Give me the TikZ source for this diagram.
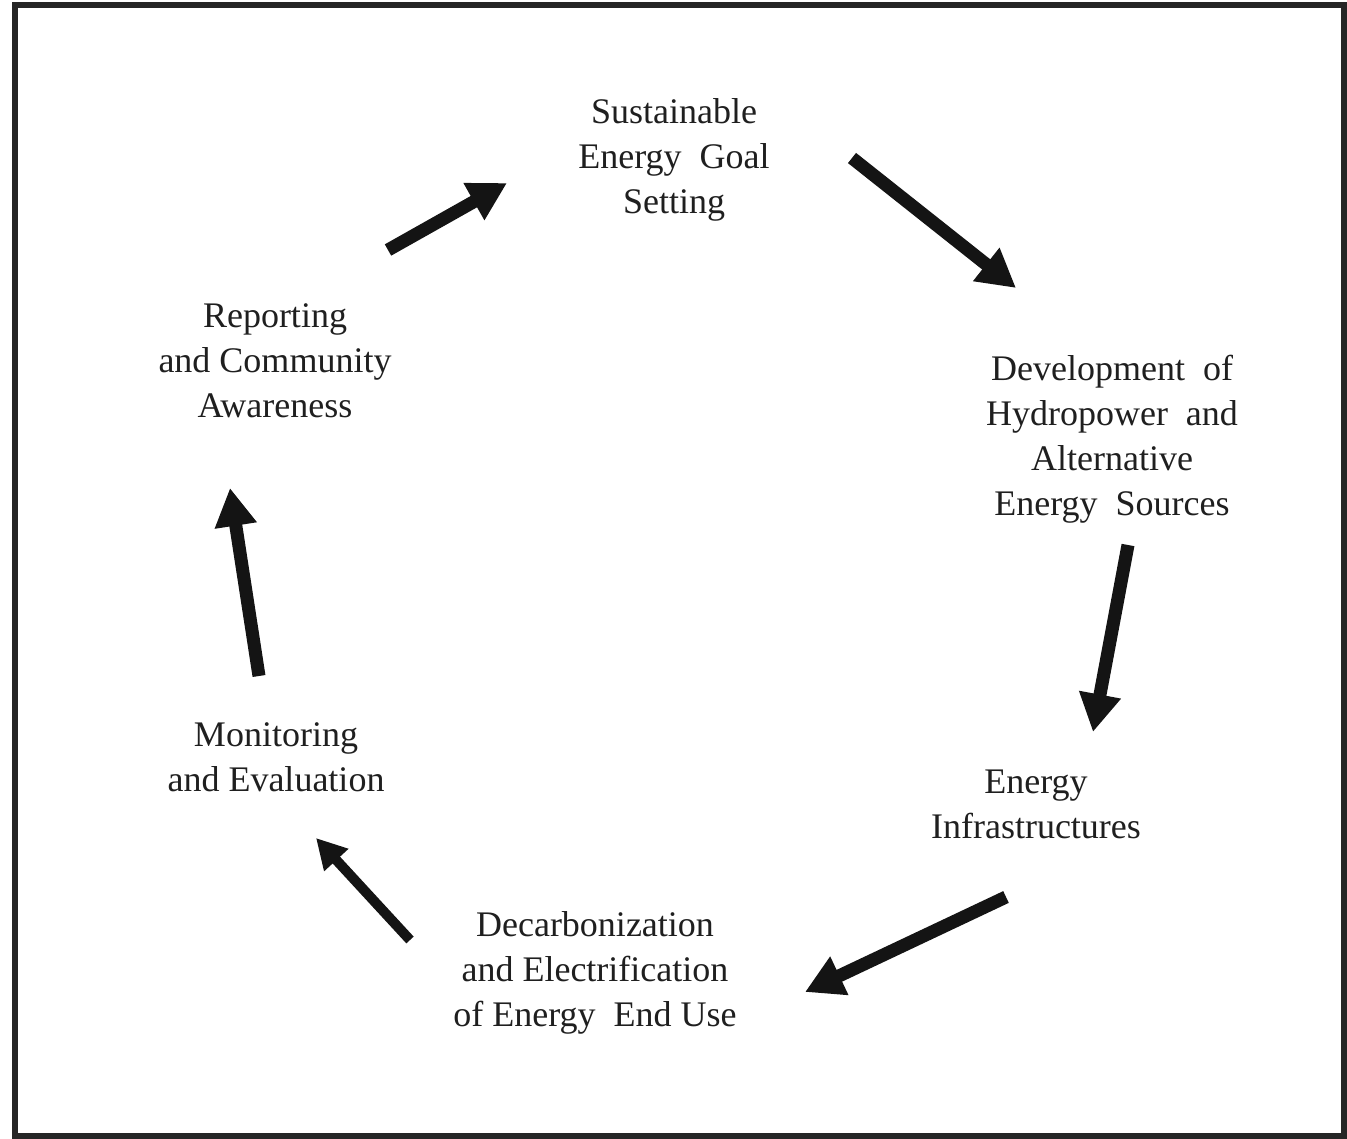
\documentclass[tikz,border=0pt]{standalone}
\usepackage{fontspec}
\setmainfont{Liberation Serif}
\usetikzlibrary{arrows.meta}
\begin{document}
\begin{tikzpicture}[x=1pt,y=-1pt,
  lbl/.style={inner sep=0pt,align=center,text=black!88,font=\fontsize{36}{45}\selectfont},
  bigarrow/.style={line width=13pt,draw=black!92,-{Triangle[length=38pt,width=40pt]}},
  smallarrow/.style={line width=10pt,draw=black!92,-{Triangle[length=30pt,width=31pt]}}]
\useasboundingbox (0,0) rectangle (1347,1139);
\draw[line width=6pt,draw=black!85] (15,5) rectangle (1344,1136);

\node[lbl] (goal) at (674,160) {Sustainable\\Energy\ \ Goal\\Setting};
\node[lbl] (dev) at (1112,439) {Development\ \ of\\Hydropower\ \ and\\Alternative\\Energy\ \ Sources};
\node[lbl] (infra) at (1036,804) {Energy\hspace{10pt}\\Infrastructures};
\node[lbl] (decarb) at (595,973) {Decarbonization\\and Electrification\\of Energy\ \ End Use};
\node[lbl] (mon) at (276,757) {Monitoring\\and Evaluation};
\node[lbl] (rep) at (275,361) {Reporting\\and Community\\Awareness};

\coordinate (a1s) at (388,250); \coordinate (a1e) at (507,183);
\coordinate (a2s) at (852,158); \coordinate (a2e) at (1016,288);
\coordinate (a3s) at (1128,545); \coordinate (a3e) at (1093,732);
\coordinate (a4s) at (1006,897); \coordinate (a4e) at (805,992);
\coordinate (a5s) at (410,940); \coordinate (a5e) at (316,838);
\coordinate (a6s) at (259,676); \coordinate (a6e) at (230,488);

\draw[bigarrow] (a1s) -- (a1e);
\draw[bigarrow] (a2s) -- (a2e);
\draw[bigarrow] (a3s) -- (a3e);
\draw[bigarrow] (a4s) -- (a4e);
\draw[smallarrow] (a5s) -- (a5e);
\draw[bigarrow] (a6s) -- (a6e);
\end{tikzpicture}
\end{document}
